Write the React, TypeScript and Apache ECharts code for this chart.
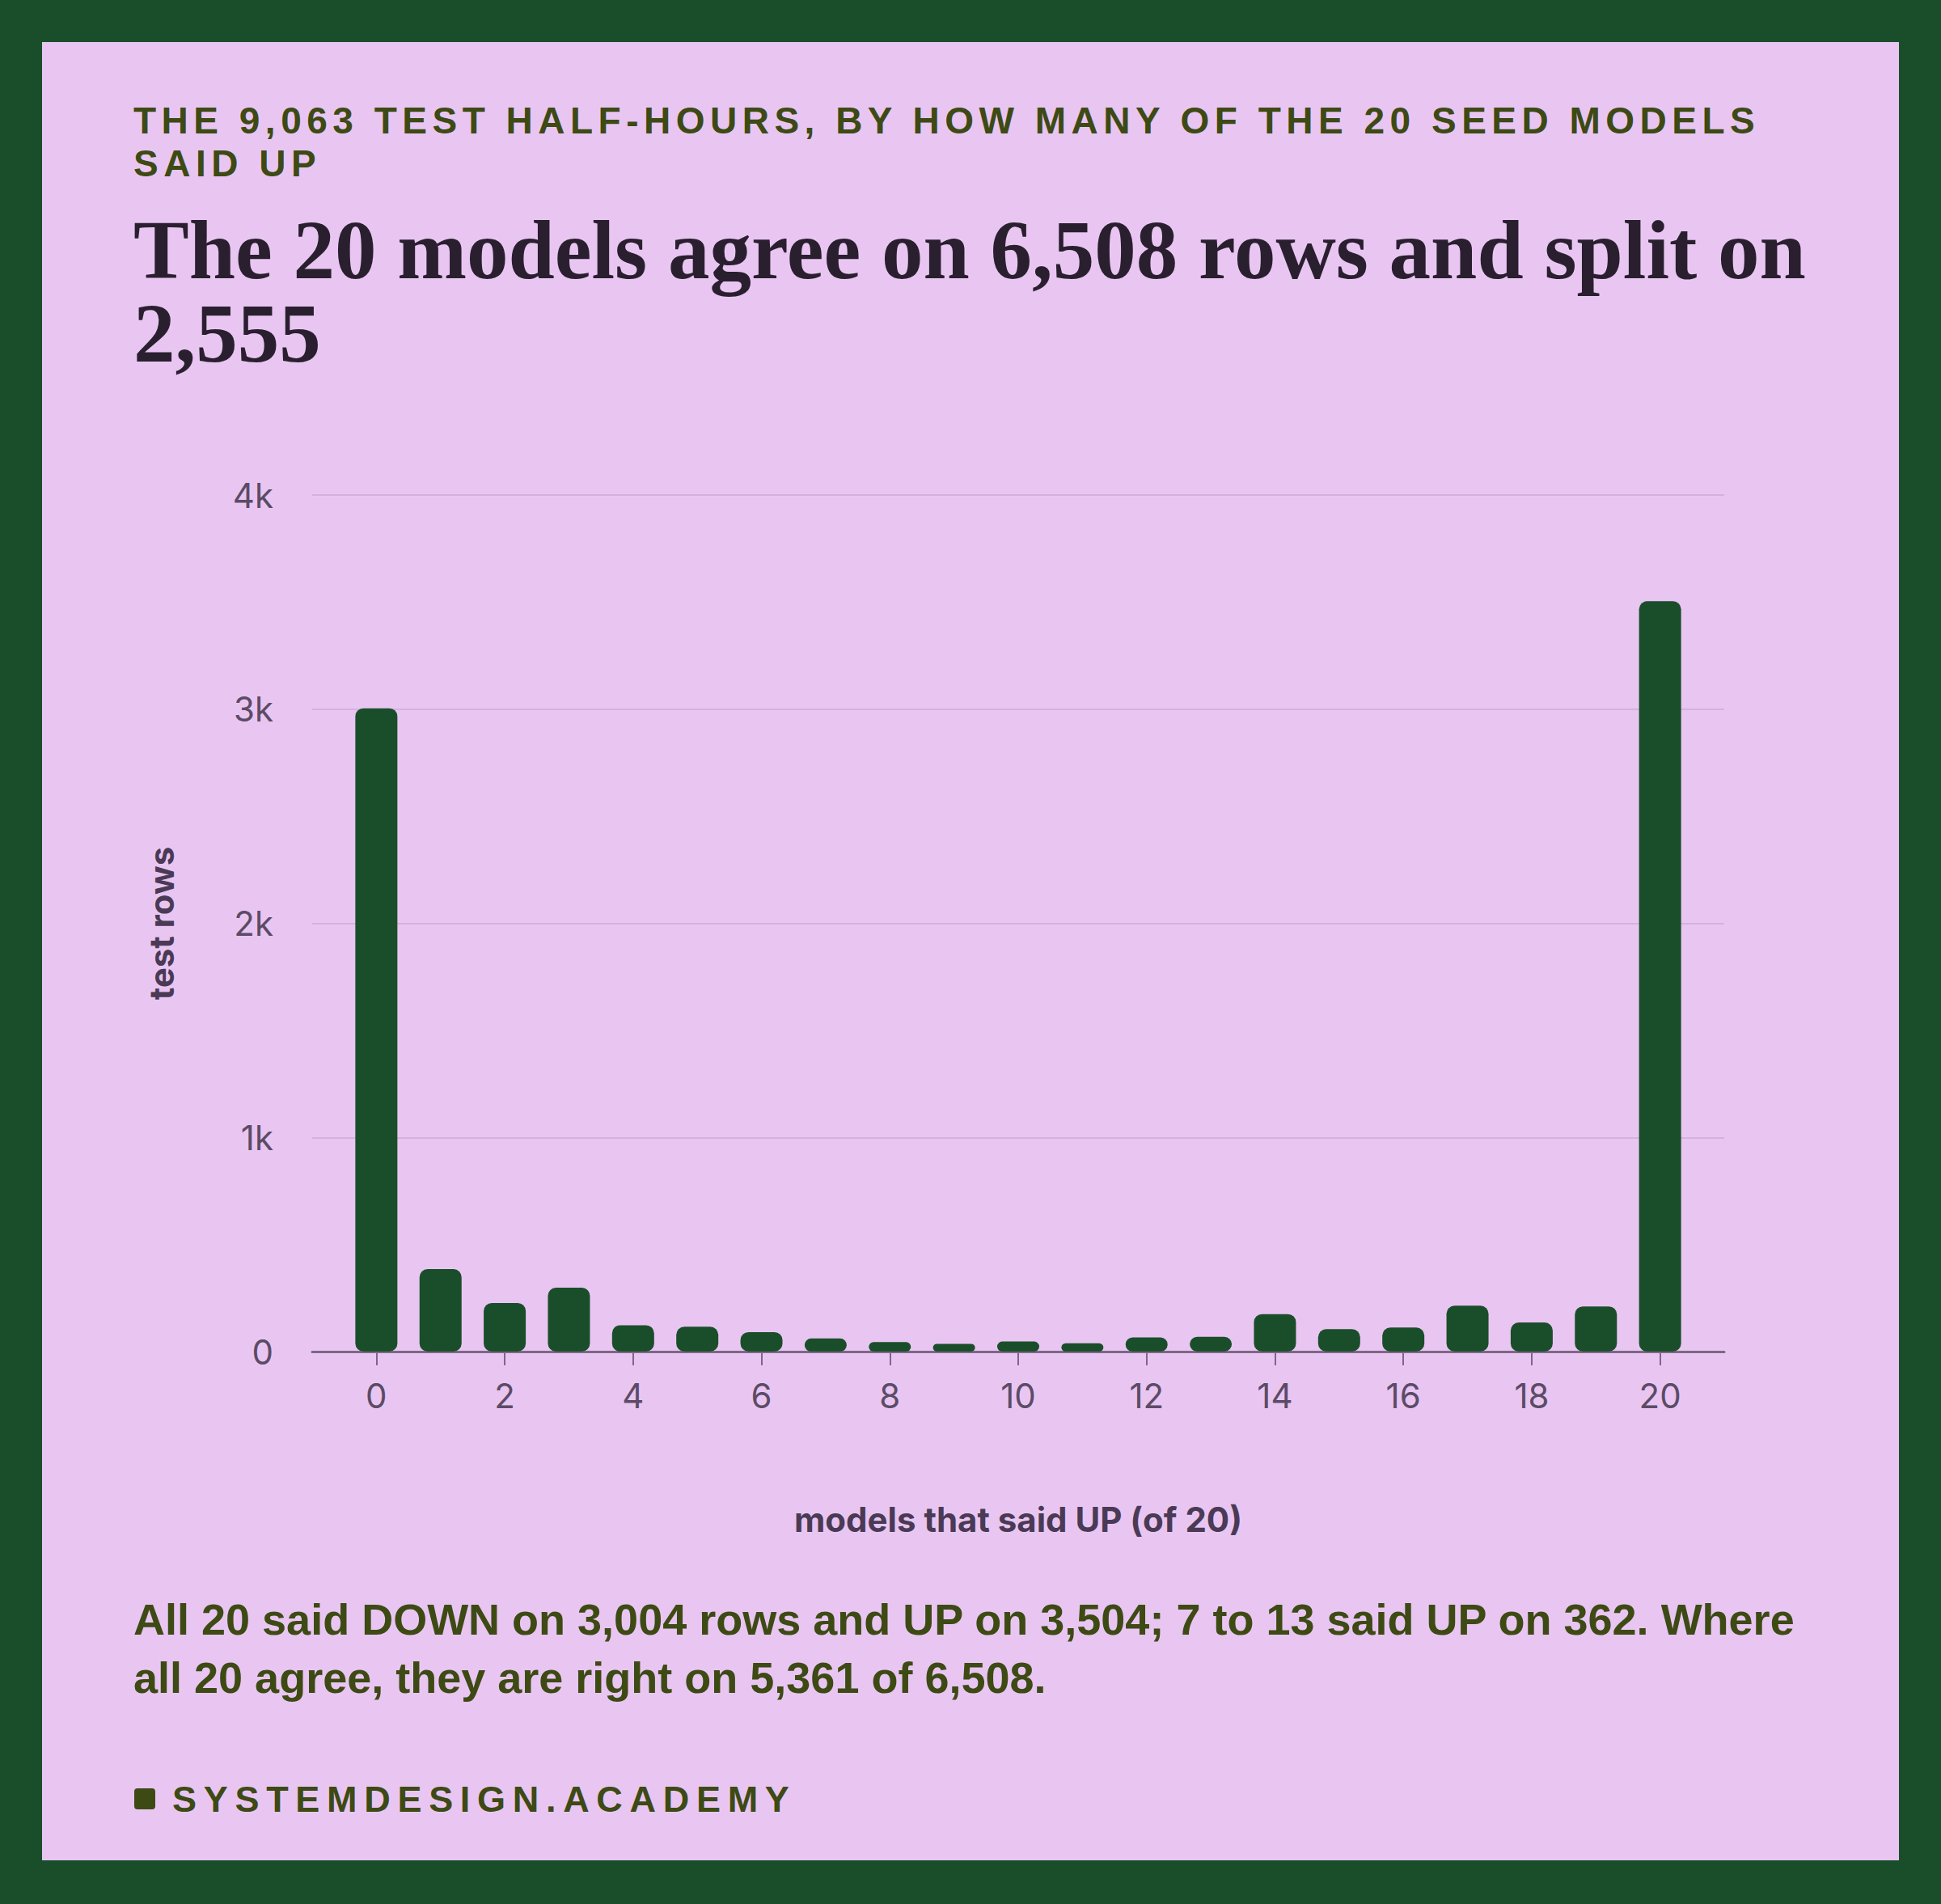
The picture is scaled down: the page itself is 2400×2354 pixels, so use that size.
import { useEffect, useRef } from 'react';
import * as echarts from 'echarts';

// 横轴：说 UP 的模型数量
const upCounts = [0, 1, 2, 3, 4, 5, 6, 7, 8, 9, 10, 11, 12, 13, 14, 15, 16, 17, 18, 19, 20];
// 每个数量对应的测试行数
const rowCounts = [3004, 385, 227, 298, 123, 116, 91, 61, 44, 36, 47, 39, 66, 69, 175, 105, 112, 214, 136, 211, 3504];
const xTickValues = [0, 2, 4, 6, 8, 10, 12, 14, 16, 18, 20];
const yMax = 4000;
const yStep = 1000;

const kicker = ['THE 9,063 TEST HALF-HOURS, BY HOW MANY OF THE 20 SEED MODELS', 'SAID UP'];
const headline = ['The 20 models agree on 6,508 rows and split on', '2,555'];
const takeaway = [
  'All 20 said DOWN on 3,004 rows and UP on 3,504; 7 to 13 said UP on 362. Where',
  'all 20 agree, they are right on 5,361 of 6,508.',
];
const brand = 'SYSTEMDESIGN.ACADEMY';
const xName = 'models that said UP (of 20)';
const yName = 'test rows';

const GREEN = '#1A4E2A';
const PANEL = '#E9C6F2';
const OLIVE = '#3D4A14';
const INK = '#2A1F2F';
const AXIS_TEXT = '#5C4B66';
const AXIS_LINE = '#7D6787';

// svg 里的字距（zrender 不支持 letterSpacing）
const spacing: Record<string, number> = {
  [kicker[0]]: 6.5,
  [kicker[1]]: 6.5,
  [brand]: 8.7,
};

const App = () => {
  const chartDom = useRef<HTMLDivElement>(null);

  useEffect(() => {
    document.body.style.margin = '0';
    const chart = echarts.init(chartDom.current, null, { renderer: 'svg' });

    const option = {
      animation: false,
      backgroundColor: GREEN,
      graphic: [
        {
          type: 'rect',
          z: -10,
          silent: true,
          shape: { x: 52, y: 52, width: 2296, height: 2248 },
          style: { fill: PANEL },
        },
        ...kicker.map((t, i) => ({
          type: 'text',
          x: 165,
          y: 149 + i * 53,
          style: {
            text: t,
            fill: OLIVE,
            fontFamily: '"Liberation Sans", Arial, sans-serif',
            fontWeight: 'bold',
            fontSize: 46,
            verticalAlign: 'middle',
          },
        })),
        ...headline.map((t, i) => ({
          type: 'text',
          x: 165,
          y: 309 + i * 103,
          style: {
            text: t,
            fill: INK,
            fontFamily: '"Liberation Serif", serif',
            fontWeight: 'bold',
            fontSize: 103,
            verticalAlign: 'middle',
          },
        })),
        ...takeaway.map((t, i) => ({
          type: 'text',
          x: 165,
          y: 2002 + i * 72,
          style: {
            text: t,
            fill: OLIVE,
            fontFamily: '"Liberation Sans", Arial, sans-serif',
            fontWeight: 'bold',
            fontSize: 54,
            verticalAlign: 'middle',
          },
        })),
        {
          type: 'rect',
          shape: { x: 166, y: 2211, width: 26, height: 26, r: 4 },
          style: { fill: OLIVE },
        },
        {
          type: 'text',
          x: 213,
          y: 2224,
          style: {
            text: brand,
            fill: OLIVE,
            fontFamily: '"Liberation Sans", Arial, sans-serif',
            fontWeight: 'bold',
            fontSize: 45,
            verticalAlign: 'middle',
          },
        },
      ],
      grid: { left: 386, right: 268, top: 612, bottom: 683 },
      xAxis: {
        type: 'value',
        min: -1,
        max: 21,
        name: xName,
        nameLocation: 'middle',
        nameGap: 186,
        nameTextStyle: { color: '#4A3A55', fontFamily: 'Inter', fontWeight: 700, fontSize: 42 },
        axisLine: { show: true, onZero: false, lineStyle: { color: AXIS_LINE, width: 3 } },
        axisTick: { show: true, customValues: xTickValues, length: 17, lineStyle: { color: AXIS_LINE, width: 2 } },
        axisLabel: { customValues: xTickValues, color: AXIS_TEXT, fontFamily: 'Inter', fontSize: 42, margin: 33 },
        splitLine: { show: false },
      },
      yAxis: {
        type: 'value',
        min: 0,
        max: yMax,
        interval: yStep,
        name: yName,
        nameLocation: 'middle',
        nameGap: 166,
        nameTextStyle: { color: '#4A3A55', fontFamily: 'Inter', fontWeight: 700, fontSize: 42 },
        axisLine: { show: false },
        axisTick: { show: false },
        axisLabel: {
          color: AXIS_TEXT,
          fontFamily: 'Inter',
          fontSize: 42,
          margin: 48,
          formatter: (v: number) => (v === 0 ? '0' : `${v / 1000}k`),
        },
        splitLine: { lineStyle: { color: '#D2B2DE', width: 2 } },
      },
      series: [
        {
          type: 'bar',
          data: upCounts.map((x, i) => [x, rowCounts[i]]),
          barWidth: 52,
          itemStyle: { color: GREEN, borderRadius: 10 },
        },
      ],
    };

    chart.setOption(option as any);

    const applySpacing = () => {
      chartDom.current?.querySelectorAll('text').forEach((t) => {
        const s = spacing[t.textContent ?? ''];
        if (s !== undefined) t.setAttribute('letter-spacing', String(s));
      });
    };
    chart.on('rendered', applySpacing);
    chart.on('finished', applySpacing);
    applySpacing();

    return () => {
      chart.dispose();
    };
  }, []);

  return <div ref={chartDom} style={{ width: 2400, height: 2354 }} />;
};

export default App;
